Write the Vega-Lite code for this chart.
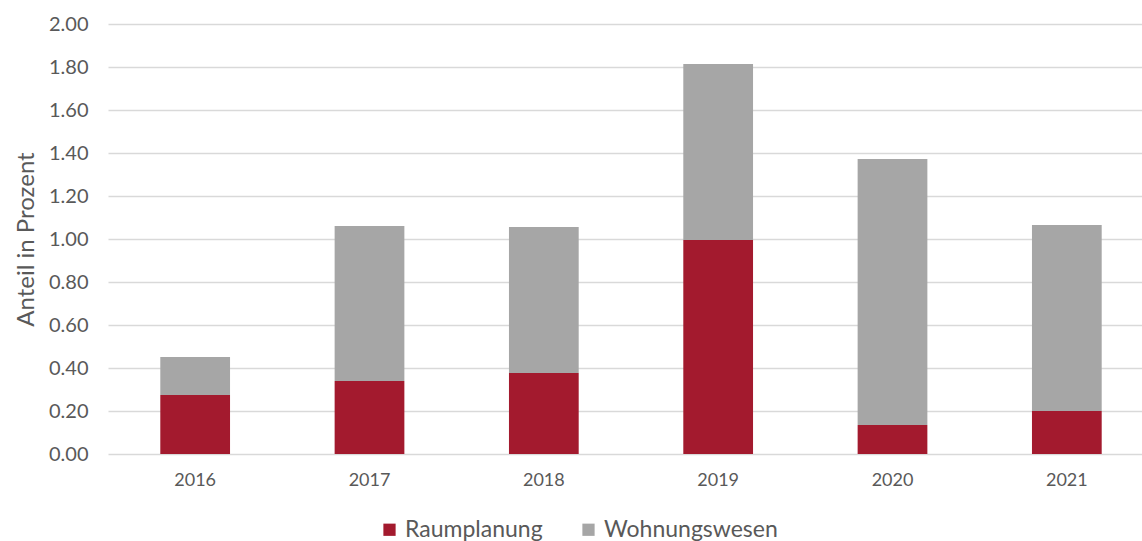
{
  "$schema": "https://vega.github.io/schema/vega-lite/v6.json",
  "width": 1046,
  "height": 430,
  "autosize": {"type": "none"},
  "padding": {"left": 108, "top": 24, "right": 0, "bottom": 87},
  "background": "white",
  "config": {
    "view": {"stroke": null},
    "font": "Lato",
    "axis": {"labelColor": "#595959", "titleColor": "#595959", "labelFont": "Lato", "titleFont": "Lato"}
  },
  "data": {
    "values": [
      {"Jahr": "2016", "Kategorie": "Raumplanung", "Wert": 0.274},
      {"Jahr": "2016", "Kategorie": "Wohnungswesen", "Wert": 0.177},
      {"Jahr": "2017", "Kategorie": "Raumplanung", "Wert": 0.340},
      {"Jahr": "2017", "Kategorie": "Wohnungswesen", "Wert": 0.720},
      {"Jahr": "2018", "Kategorie": "Raumplanung", "Wert": 0.377},
      {"Jahr": "2018", "Kategorie": "Wohnungswesen", "Wert": 0.679},
      {"Jahr": "2019", "Kategorie": "Raumplanung", "Wert": 0.995},
      {"Jahr": "2019", "Kategorie": "Wohnungswesen", "Wert": 0.819},
      {"Jahr": "2020", "Kategorie": "Raumplanung", "Wert": 0.135},
      {"Jahr": "2020", "Kategorie": "Wohnungswesen", "Wert": 1.237},
      {"Jahr": "2021", "Kategorie": "Raumplanung", "Wert": 0.200},
      {"Jahr": "2021", "Kategorie": "Wohnungswesen", "Wert": 0.865}
    ]
  },
  "mark": {"type": "bar"},
  "encoding": {
    "x": {
      "field": "Jahr",
      "type": "ordinal",
      "scale": {"paddingInner": 0.6, "paddingOuter": 0.3},
      "axis": {"title": null, "labelAngle": 0, "labelFontSize": 18, "labelPadding": 17, "domain": false, "ticks": false}
    },
    "y": {
      "field": "Wert",
      "type": "quantitative",
      "stack": "zero",
      "scale": {"domain": [0, 2]},
      "axis": {
        "title": "Anteil in Prozent",
        "titleFontSize": 24,
        "titleFontWeight": "normal",
        "titlePadding": 10,
        "values": [0, 0.2, 0.4, 0.6, 0.8, 1.0, 1.2, 1.4, 1.6, 1.8, 2.0],
        "labelOverlap": false,
        "format": ".2f",
        "labelFontSize": 20,
        "labelPadding": 20,
        "domain": false,
        "ticks": false,
        "gridColor": "#D9D9D9",
        "gridWidth": 1.5
      }
    },
    "color": {
      "field": "Kategorie",
      "type": "nominal",
      "scale": {"domain": ["Raumplanung", "Wohnungswesen"], "range": ["#A31A2E", "#A6A6A6"]},
      "legend": {
        "title": null,
        "orient": "none",
        "legendX": 270,
        "legendY": 494,
        "direction": "horizontal",
        "symbolType": "square",
        "symbolSize": 150,
        "symbolStrokeWidth": 0,
        "labelFontSize": 23,
        "labelLimit": 0,
        "labelColor": "#595959",
        "labelOffset": 4,
        "columnPadding": 34
      }
    },
    "order": {"field": "Kategorie", "sort": "ascending"}
  }
}
